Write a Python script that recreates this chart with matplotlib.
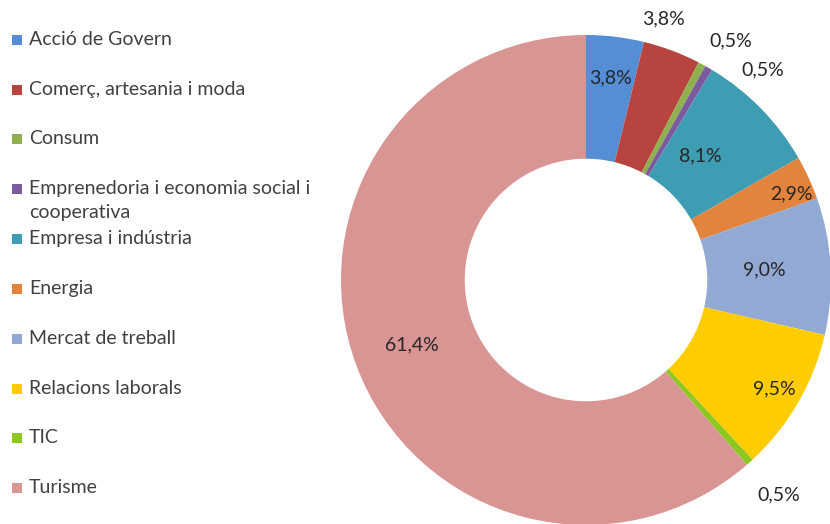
import numpy as np
import matplotlib
matplotlib.use("Agg")
import matplotlib.pyplot as plt
from matplotlib.patches import Rectangle

categories = ["Acció de Govern", "Comerç, artesania i moda", "Consum",
              "Emprenedoria i economia social i\ncooperativa", "Empresa i indústria",
              "Energia", "Mercat de treball", "Relacions laborals", "TIC", "Turisme"]
values = [3.8, 3.8, 0.5, 0.5, 8.1, 2.9, 9.0, 9.5, 0.5, 61.4]
labels = ["3,8%", "3,8%", "0,5%", "0,5%", "8,1%", "2,9%", "9,0%", "9,5%", "0,5%", "61,4%"]
colors = ["#558ED5", "#B7443F", "#8FB04E", "#7B5A9E", "#3F9DB3",
          "#E2843D", "#92A9D3", "#FFCC00", "#8CC81F", "#D99594"]

# label placement: radius (fraction of outer radius) and angle shift in degrees
lab_r = [0.83, 1.11, 1.14, 1.12, 0.69, 0.91, 0.73, 0.89, 1.18, 0.76]
lab_shift = [0, 4, -3, -10, 3, -2, 0, 0, 0, 0]

plt.rcParams['font.family'] = ['Lato', 'DejaVu Sans']

W, H = 830, 524
fig = plt.figure(figsize=(W / 100, H / 100), dpi=100)

cx, cy, R = 586, 280, 245
ax = fig.add_axes([(cx - R) / W, (H - cy - R) / H, 2 * R / W, 2 * R / H])
wedges, _ = ax.pie(values, colors=colors, startangle=90, counterclock=False,
                   radius=1.0, wedgeprops=dict(width=0.505, linewidth=0))
ax.set_xlim(-1, 1)
ax.set_ylim(-1, 1)
ax.set_aspect('auto')
ax.axis('off')

for w, lab, r, s in zip(wedges, labels, lab_r, lab_shift):
    ang = np.deg2rad((w.theta1 + w.theta2) / 2 + s)
    ax.text(r * np.cos(ang), r * np.sin(ang), lab, ha='center', va='center',
            fontsize=14, color='#262626', clip_on=False)

# legend drawn by hand so the marker sits next to the first line
ys = [40, 90, 139, 189, 239, 289, 339, 389, 438, 488]
for name, col, y in zip(categories, colors, ys):
    fig.patches.append(Rectangle((12 / W, 1 - (y + 5) / H), 10 / W, 10 / H,
                                 transform=fig.transFigure, facecolor=col,
                                 edgecolor='none'))
    fig.text(29 / W, 1 - (y - 9) / H, name, ha='left', va='top',
             fontsize=14, color='#404040', linespacing=1.5)

fig.savefig("out.png", dpi=100)
